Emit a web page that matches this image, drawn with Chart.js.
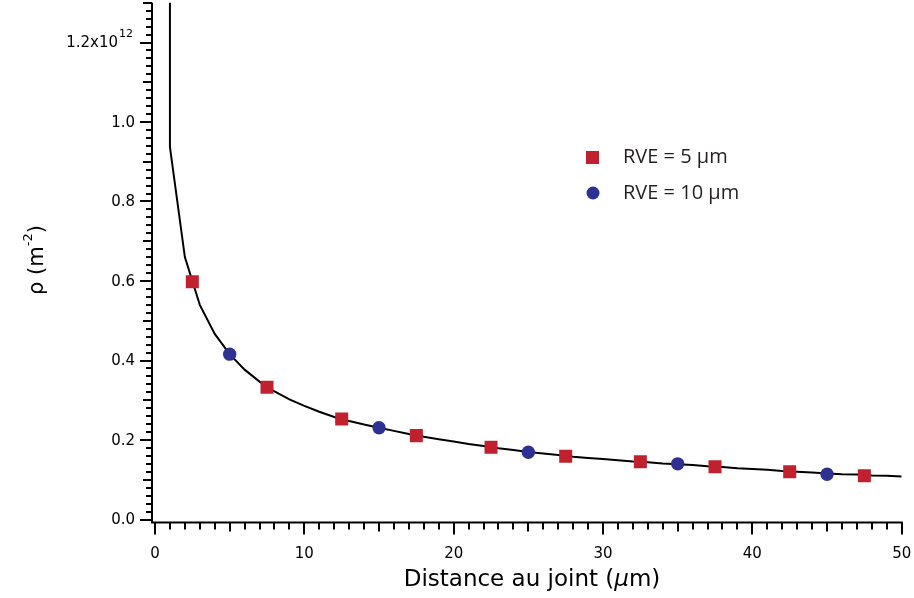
<!DOCTYPE html>
<html>
<head>
<meta charset="utf-8">
<script src="https://cdn.jsdelivr.net/npm/chart.js@4/dist/chart.umd.min.js"></script>
<style>
  html, body { margin: 0; padding: 0; background: #fff; }
</style>
</head>
<body>
<canvas id="rhoChart" width="914" height="598"></canvas>
<script>
// --- DATOS (ρ en unidades de 10^12 m^-2) ---
const rve5X = [2.5, 7.5, 12.5, 17.5, 22.5, 27.5, 32.5, 37.5, 42.5, 47.5];
const rve5Y = [0.598, 0.333, 0.253, 0.211, 0.182, 0.159, 0.145, 0.133, 0.120, 0.110];

const rve10X = [5, 15, 25, 35, 45];
const rve10Y = [0.416, 0.231, 0.169, 0.140, 0.114];

// courbe d'ajustement (le premier point sort du cadre)
const fitX = [1, 1, 2, 3, 4, 5, 6, 7, 8, 9, 10, 11, 12, 13, 14, 15, 16, 17, 18, 19, 20,
              21, 22, 23, 24, 25, 26, 27, 28, 29, 30, 31, 32, 33, 34, 35, 36, 37, 38, 39, 40,
              41, 42, 43, 44, 45, 46, 47, 48, 49, 50];
const fitY = [1.5, 0.937, 0.66, 0.54, 0.467, 0.416, 0.377, 0.347, 0.322, 0.302, 0.286, 0.271,
              0.258, 0.248, 0.239, 0.231, 0.223, 0.215, 0.208, 0.202, 0.196,
              0.190, 0.185, 0.179, 0.175, 0.170, 0.166, 0.162, 0.158, 0.155, 0.152,
              0.149, 0.146, 0.144, 0.141, 0.139, 0.137, 0.134, 0.132, 0.129, 0.127,
              0.125, 0.122, 0.120, 0.118, 0.116, 0.114, 0.113, 0.111, 0.110, 0.108];

const xTickValues = [0, 10, 20, 30, 40, 50];
const xTickLabels = ["0", "10", "20", "30", "40", "50"];
const yTickValues = [0, 0.2, 0.4, 0.6, 0.8, 1.0, 1.2];
const yTickLabels = ["0.0", "0.2", "0.4", "0.6", "0.8", "1.0", "1.2x10"];
const yTopExponent = "12";

const seriesLabels = ["RVE = 5 µm", "RVE = 10 µm"];

const RED = "#C1212F";
const BLUE = "#2E3192";
const TICK_FONT = '15px "DejaVu Sans"';

function toPoints(xs, ys) {
    return xs.map((x, i) => ({ x: x, y: ys[i] }));
}

// Ejes al estilo Igor: ticks hacia fuera, mayores más largos
const igorAxes = {
    id: "igorAxes",
    afterDraw(chart) {
        const ctx = chart.ctx;
        const xs = chart.scales.x;
        const ys = chart.scales.y;
        const area = chart.chartArea;
        const axX = xs.getPixelForValue(0) - 3;
        const axY = ys.getPixelForValue(0) + 3;

        ctx.save();
        ctx.strokeStyle = "#000";
        ctx.fillStyle = "#000";
        ctx.lineWidth = 2;
        ctx.lineCap = "butt";

        // líneas de eje
        ctx.beginPath();
        ctx.moveTo(axX, area.top);
        ctx.lineTo(axX, axY + 1);
        ctx.moveTo(axX - 1, axY);
        ctx.lineTo(xs.getPixelForValue(50) + 1, axY);
        ctx.stroke();

        // ticks Y cada 0.02
        ctx.beginPath();
        for (let i = 0; i <= 65; i++) {
            const py = Math.round(ys.getPixelForValue(i * 0.02));
            const len = i % 10 === 0 ? 12 : (i % 5 === 0 ? 9 : 6);
            ctx.moveTo(axX, py);
            ctx.lineTo(axX - len, py);
        }
        // ticks X cada 1
        for (let i = 0; i <= 50; i++) {
            const px = Math.round(xs.getPixelForValue(i));
            const len = i % 10 === 0 ? 12 : (i % 5 === 0 ? 9 : 7);
            ctx.moveTo(px, axY);
            ctx.lineTo(px, axY + len);
        }
        ctx.stroke();

        // etiquetas Y
        ctx.font = TICK_FONT;
        ctx.textBaseline = "middle";
        ctx.textAlign = "right";
        yTickValues.forEach((v, i) => {
            const py = ys.getPixelForValue(v);
            if (i === yTickValues.length - 1) {
                ctx.fillText(yTickLabels[i], 118, py + 1);
                ctx.font = '11px "DejaVu Sans"';
                ctx.textAlign = "left";
                ctx.fillText(yTopExponent, 119, py - 8);
                ctx.font = TICK_FONT;
                ctx.textAlign = "right";
            } else {
                ctx.fillText(yTickLabels[i], 135, py + 1);
            }
        });

        // etiquetas X
        ctx.textAlign = "center";
        xTickValues.forEach((v, i) => {
            ctx.fillText(xTickLabels[i], xs.getPixelForValue(v), 554);
        });

        // título eje X: "Distance au joint (μm)" con μ en itálica
        const tA = "Distance au joint (";
        const tB = "\u03BC";
        const tC = "m)";
        const fN = '23px "DejaVu Sans"';
        const fI = 'italic 23px "DejaVu Sans"';
        ctx.font = fN;
        const wA = ctx.measureText(tA).width;
        const wC = ctx.measureText(tC).width;
        ctx.font = fI;
        const wB = ctx.measureText(tB).width;
        let sx = 532 - (wA + wB + wC) / 2;
        ctx.textAlign = "left";
        ctx.textBaseline = "alphabetic";
        ctx.font = fN; ctx.fillText(tA, sx, 586); sx += wA;
        ctx.font = fI; ctx.fillText(tB, sx, 586); sx += wB;
        ctx.font = fN; ctx.fillText(tC, sx, 586);

        // título eje Y: ρ (m^-2)
        ctx.translate(43, 260);
        ctx.rotate(-Math.PI / 2);
        const yA = "\u03C1 (m";
        const yB = "-2";
        const yC = ")";
        const fY = '21px "DejaVu Sans"';
        const fS = '13px "DejaVu Sans"';
        ctx.font = fY;
        const wyA = ctx.measureText(yA).width;
        const wyC = ctx.measureText(yC).width;
        ctx.font = fS;
        const wyB = ctx.measureText(yB).width;
        let ty = -(wyA + wyB + wyC) / 2;
        ctx.font = fY; ctx.fillText(yA, ty, 0); ty += wyA;
        ctx.font = fS; ctx.fillText(yB, ty, -11); ty += wyB;
        ctx.font = fY; ctx.fillText(yC, ty, 0);
        ctx.restore();

        // leyenda
        ctx.save();
        ctx.fillStyle = RED;
        ctx.fillRect(586, 151, 13, 13);
        ctx.fillStyle = BLUE;
        ctx.beginPath();
        ctx.arc(593, 193, 6.5, 0, Math.PI * 2);
        ctx.fill();
        ctx.fillStyle = "#231F20";
        ctx.font = '20px "Open Sans"';
        ctx.textAlign = "left";
        ctx.textBaseline = "middle";
        ctx.fillText(seriesLabels[0], 623, 157);
        ctx.fillText(seriesLabels[1], 623, 193);
        ctx.restore();
    }
};

const canvas = document.getElementById("rhoChart");
const ctx = canvas.getContext("2d");

canvas._chartInstance = new Chart(ctx, {
    type: "scatter",
    data: {
        datasets: [
            {
                label: "fit",
                type: "line",
                data: toPoints(fitX, fitY),
                borderColor: "#000",
                borderWidth: 2,
                pointRadius: 0,
                tension: 0,
                fill: false,
                order: 3
            },
            {
                label: seriesLabels[0],
                data: toPoints(rve5X, rve5Y),
                pointStyle: "rect",
                pointRadius: 9.2,
                pointBackgroundColor: RED,
                pointBorderWidth: 0,
                order: 1
            },
            {
                label: seriesLabels[1],
                data: toPoints(rve10X, rve10Y),
                pointStyle: "circle",
                pointRadius: 6.7,
                pointBackgroundColor: BLUE,
                pointBorderWidth: 0,
                order: 2
            }
        ]
    },
    options: {
        responsive: false,
        animation: false,
        layout: { autoPadding: false, padding: { left: 155, right: 12.3, top: 2.75, bottom: 78.5 } },
        plugins: {
            legend: { display: false },
            tooltip: { enabled: false }
        },
        scales: {
            x: { type: "linear", min: 0, max: 50, display: false },
            y: { type: "linear", min: 0, max: 1.3, display: false }
        }
    },
    plugins: [igorAxes]
});
</script>
</body>
</html>
